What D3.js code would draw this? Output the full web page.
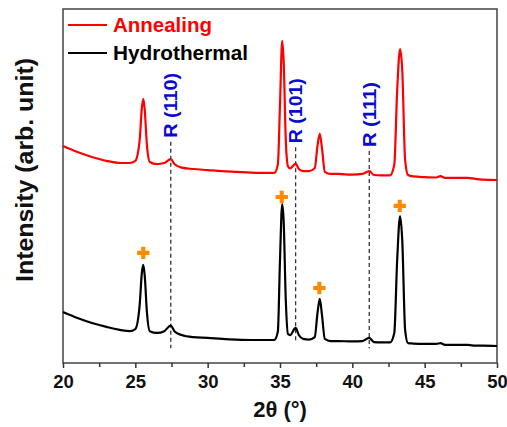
<!DOCTYPE html>
<html>
<head>
<meta charset="utf-8">
<script src="https://cdn.jsdelivr.net/npm/d3@7"></script>
<style>
  html, body { margin: 0; padding: 0; background: #fff; }
  svg { display: block; font-family: "Liberation Sans", Arial, sans-serif; font-weight: bold; }
</style>
</head>
<body>
<svg id="chart" width="507" height="427"></svg>
<script>
// ---- data (2θ in degrees, intensity in arbitrary units 0-100) ----
const annealingTheta = [20.0, 21.0, 22.0, 23.0, 24.0, 24.6, 25.0, 25.3, 25.45, 25.55, 25.65, 25.8, 26.0, 26.5, 27.0, 27.45, 27.7, 28.2, 29, 30, 31, 32, 33, 34, 34.6, 34.85, 35.0, 35.15, 35.25, 35.4, 35.55, 35.7, 36.08, 36.3, 36.6, 37.0, 37.4, 37.6, 37.75, 37.9, 38.1, 38.5, 39, 40, 40.7, 41.17, 41.5, 42, 42.6, 42.9, 43.1, 43.3, 43.45, 43.65, 43.85, 44.2, 45, 45.8, 46.1, 46.4, 47, 48, 48.5, 49, 50];
const annealingIntensity = [61.3, 59.6, 58.2, 57.1, 56.5, 56.5, 57.1, 63.0, 72.0, 74.6, 71.5, 61.6, 56.8, 56.2, 56.5, 57.6, 56.2, 55.2, 54.8, 54.5, 54.2, 54.0, 53.8, 53.7, 53.7, 56.0, 72.9, 91.0, 85.6, 63.0, 55.6, 55.0, 56.3, 54.8, 54.2, 54.2, 55.0, 61.6, 64.7, 60.7, 54.0, 53.4, 53.4, 53.2, 53.4, 54.2, 53.1, 53.0, 53.0, 56.0, 77.0, 88.7, 82.8, 57.3, 53.1, 52.7, 52.5, 52.4, 52.8, 52.3, 52.3, 52.3, 52.0, 51.8, 51.7];

const hydroTheta = [20.0, 21.0, 22.0, 23.0, 24.0, 24.6, 25.0, 25.3, 25.45, 25.55, 25.65, 25.8, 26.0, 26.5, 27.0, 27.45, 27.7, 28.2, 29, 30, 31, 32, 33, 34, 34.6, 34.85, 35.0, 35.15, 35.25, 35.4, 35.55, 35.7, 36.08, 36.3, 36.6, 37.0, 37.4, 37.6, 37.75, 37.9, 38.1, 38.5, 39, 40, 40.7, 41.17, 41.5, 42, 42.6, 42.9, 43.1, 43.3, 43.45, 43.65, 43.85, 44.2, 45, 45.8, 46.1, 46.4, 47, 48, 48.5, 49, 50];
const hydroIntensity = [14.4, 12.7, 11.3, 10.2, 9.3, 9.0, 9.6, 16.4, 25.4, 27.7, 24.6, 14.4, 9.0, 8.5, 9.0, 10.6, 9.0, 7.9, 7.3, 7.1, 6.8, 6.6, 6.5, 6.5, 6.5, 8.8, 29.1, 44.9, 40.4, 17.8, 8.2, 7.9, 9.9, 7.9, 6.8, 6.6, 7.3, 14.4, 18.1, 13.6, 6.8, 6.2, 6.2, 6.1, 6.2, 7.1, 5.9, 5.8, 5.8, 8.5, 29.1, 41.5, 34.7, 9.3, 5.6, 5.5, 5.4, 5.4, 5.6, 5.1, 5.1, 5.1, 4.9, 4.9, 4.8];

// anatase markers (+)
const markerTheta = [25.55, 35.12, 37.72, 43.28];
const markerIntensity = [31.1, 46.9, 21.2, 44.4];

// rutile reference lines
const rutileLabels = ["R (110)", "R (101)", "R (111)"];
const rutileTheta = [27.45, 36.08, 41.17];
const rutileLabelBase = [63.6, 62.1, 61.0];
const rutileLineBottom = [4.2, 5.6, 4.2];

const majorTicks = [20, 25, 30, 35, 40, 45, 50];
const minorTicks = [22.5, 27.5, 32.5, 37.5, 42.5, 47.5];

const seriesNames = ["Annealing", "Hydrothermal"];
const seriesColors = ["#ff0000", "#000000"];

// ---- layout ----
const svg = d3.select("#chart");
const pLeft = 63, pRight = 497, pTop = 9, pBottom = 363;
const x = d3.scaleLinear().domain([20, 50]).range([pLeft, pRight]);
const y = d3.scaleLinear().domain([0, 100]).range([pBottom, pTop]);

// frame
svg.append("rect")
  .attr("x", pLeft).attr("y", pTop)
  .attr("width", pRight - pLeft).attr("height", pBottom - pTop)
  .attr("fill", "none").attr("stroke", "#444").attr("stroke-width", 1.5);

// axis ticks
const axisMajor = d3.axisBottom(x).tickValues(majorTicks).tickSize(5).tickSizeOuter(0).tickFormat(d3.format("d"));
const gx = svg.append("g").attr("transform", `translate(0,${pBottom})`).call(axisMajor);
gx.select(".domain").remove();
gx.selectAll(".tick line").attr("stroke", "#333").attr("stroke-width", 1.5);
gx.selectAll(".tick text")
  .attr("y", 25).attr("dy", 0)
  .attr("fill", "#111")
  .style("font-size", "18.5px").style("font-weight", "bold")
  .style("font-family", "'Liberation Sans', Arial, sans-serif");

const axisMinor = d3.axisBottom(x).tickValues(minorTicks).tickSize(4).tickSizeOuter(0).tickFormat("");
const gm = svg.append("g").attr("transform", `translate(0,${pBottom})`).call(axisMinor);
gm.select(".domain").remove();
gm.selectAll(".tick line").attr("stroke", "#333").attr("stroke-width", 1.5);

// dashed rutile lines
rutileTheta.forEach((t, i) => {
  svg.append("line")
    .attr("x1", x(t)).attr("x2", x(t))
    .attr("y1", y(rutileLabelBase[i]) + 4).attr("y2", y(rutileLineBottom[i]))
    .attr("stroke", "#333").attr("stroke-width", 1.3)
    .attr("stroke-dasharray", "4,3");
  svg.append("text")
    .attr("transform", `translate(${x(t)},${y(rutileLabelBase[i])}) rotate(-90)`)
    .attr("dy", "0.36em")
    .attr("text-anchor", "start")
    .attr("fill", "#0a0ad2")
    .attr("textLength", 65).attr("lengthAdjust", "spacingAndGlyphs")
    .style("font-size", "18px")
    .text(rutileLabels[i]);
});

// curves
const line = d3.line().x(d => x(d[0])).y(d => y(d[1])).curve(d3.curveMonotoneX);
const series = [
  d3.zip(annealingTheta, annealingIntensity),
  d3.zip(hydroTheta, hydroIntensity)
];
series.forEach((s, i) => {
  svg.append("path").datum(s)
    .attr("d", line)
    .attr("fill", "none")
    .attr("stroke", seriesColors[i])
    .attr("stroke-width", 2.2)
    .attr("stroke-linejoin", "round");
});

// + markers
const cross = d3.symbol(d3.symbolCross, 85);
markerTheta.forEach((t, i) => {
  svg.append("path")
    .attr("d", cross)
    .attr("transform", `translate(${x(t)},${y(markerIntensity[i])})`)
    .attr("fill", "#ff8a00");
});

// legend
const legendLen = [99, 135];
seriesNames.forEach((n, i) => {
  const ly = 25 + i * 28;
  svg.append("line")
    .attr("x1", 68).attr("x2", 107).attr("y1", ly).attr("y2", ly)
    .attr("stroke", seriesColors[i]).attr("stroke-width", 2);
  svg.append("text")
    .attr("x", 113).attr("y", ly + 7)
    .attr("fill", seriesColors[i])
    .attr("textLength", legendLen[i]).attr("lengthAdjust", "spacingAndGlyphs")
    .style("font-size", "20px")
    .text(n);
});

// axis titles
svg.append("text")
  .attr("x", (pLeft + pRight) / 2).attr("y", 417)
  .attr("text-anchor", "middle")
  .attr("fill", "#111")
  .style("font-size", "22px")
  .text("2θ (°)");

svg.append("text")
  .attr("transform", "translate(33,170) rotate(-90)")
  .attr("text-anchor", "middle")
  .attr("fill", "#111")
  .attr("textLength", 224).attr("lengthAdjust", "spacingAndGlyphs")
  .style("font-size", "23px")
  .text("Intensity (arb. unit)");
</script>
</body>
</html>
